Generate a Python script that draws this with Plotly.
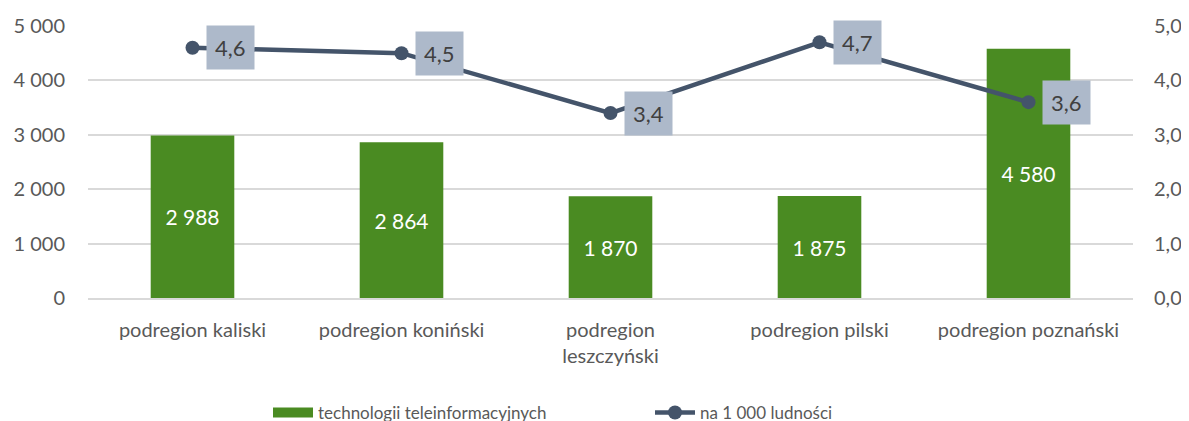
import plotly.graph_objects as go

regions = ['podregion kaliski', 'podregion koniński', 'podregion<br>leszczyński',
           'podregion pilski', 'podregion poznański']
firms = [2988, 2864, 1870, 1875, 4580]
per_1000 = [4.6, 4.5, 3.4, 4.7, 3.6]

left_ticks = [0, 1000, 2000, 3000, 4000, 5000]
right_ticks = [0, 1, 2, 3, 4, 5]

FONT = 'Lato'
TXT = '#595959'
GREEN = '#4A8B22'
SLATE = '#44546A'
BOX = '#ADB9CA'

# strona HTML ma domyślny margines 8 px - uwzględniamy go w marginesach wykresu
W, H = 1189, 421
PAD = 8

fig = go.Figure()

fig.add_trace(go.Bar(
    x=regions, y=firms, name='technologii teleinformacyjnych',
    marker=dict(color=GREEN, line=dict(width=0)),
    width=0.4, showlegend=False,
    texttemplate='%{y:,d}', textposition='inside', insidetextanchor='middle',
    textfont=dict(color='white', size=21, family=FONT),
    hoverinfo='skip',
))

# tylko wpis legendy - prostokąt jak w Excelu
fig.add_trace(go.Scatter(
    x=[None], y=[None], name='technologii teleinformacyjnych',
    mode='lines', line=dict(color=GREEN, width=14),
))

fig.add_trace(go.Scatter(
    x=regions, y=per_1000, name='na 1 000 ludności', yaxis='y2',
    mode='lines+markers',
    line=dict(color=SLATE, width=4.5),
    marker=dict(color=SLATE, size=14),
    hoverinfo='skip',
))

# etykiety wartości w szarych ramkach obok punktów
for reg, val in zip(regions, per_1000):
    fig.add_annotation(
        x=reg, y=val, yref='y2', xref='x',
        text=f'{val:.1f}'.replace('.', ','),
        showarrow=False, xshift=38,
        bgcolor=BOX, borderpad=8,
        font=dict(size=22, color='#404040', family=FONT),
    )

fig.update_layout(
    width=W, height=H,
    margin=dict(l=88 - PAD, r=W - (1133 - PAD), t=26 - PAD, b=H - (298 - PAD),
                autoexpand=False),
    plot_bgcolor='white', paper_bgcolor='white',
    separators=', ',
    font=dict(family=FONT, color=TXT, size=20),
    xaxis=dict(showgrid=False, showline=True, linecolor='#D9D9D9', linewidth=1.5,
               ticks='', ticklabelstandoff=13, automargin=False,
               tickfont=dict(size=20, color=TXT)),
    yaxis=dict(range=[0, 5000], tickvals=left_ticks, tickformat=',d',
               gridcolor='#D9D9D9', gridwidth=1.5, zeroline=False, automargin=False,
               ticks='', ticklabelstandoff=22, tickfont=dict(size=20, color=TXT)),
    yaxis2=dict(range=[0, 5], tickvals=right_ticks, tickformat='.1f',
                overlaying='y', side='right', showgrid=False, zeroline=False,
                automargin=False, ticks='', ticklabelstandoff=20,
                tickfont=dict(size=20, color=TXT)),
    legend=dict(orientation='h', xref='container', x=(268 - PAD) / W, xanchor='left',
                yref='container', y=(H - (413 - PAD)) / H, yanchor='middle',
                font=dict(size=17, color=TXT), itemwidth=40, entrywidth=327,
                traceorder='normal'),
)

fig.write_html('out.html')
